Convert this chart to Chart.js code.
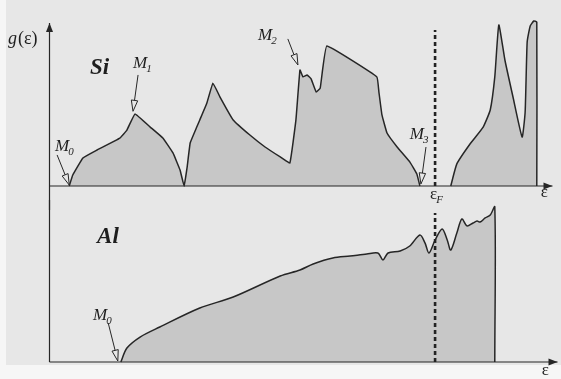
<!DOCTYPE html>
<html lang="en">
<head>
<meta charset="UTF-8">
<title>Density of states: Si and Al</title>
<script src="https://cdn.jsdelivr.net/npm/chart.js"></script>
<style>
  body { margin: 0; background: #f6f6f6; }
  #page { position: absolute; left: 6px; top: 0; width: 555px; height: 365px; background: #e7e7e7; }
  canvas { position: absolute; left: 0; }
  #siChart { top: 0; z-index: 2; }
  #alChart { top: 200px; z-index: 1; }
</style>
</head>
<body>
<div id="page"></div>
<canvas id="siChart" width="561" height="210"></canvas>
<canvas id="alChart" width="561" height="179"></canvas>

<script>
// energy (arbitrary units) and g(e)
const siValenceE = [0.40, 0.47, 0.67, 0.95, 1.40, 1.54, 1.70, 2.00, 2.25, 2.45, 2.59, 2.67,
                    2.73, 2.79, 2.92, 2.98, 3.12, 3.24, 3.38, 3.64, 3.97, 4.27, 4.57, 4.76,
                    4.88, 4.96, 5.02, 5.10, 5.18, 5.28, 5.36, 5.49, 6.48, 6.52, 6.58, 6.68,
                    6.88, 7.13, 7.27, 7.33];
const siValenceG = [0, 0.66, 1.69, 2.17, 2.89, 3.37, 4.34, 3.55, 2.89, 1.99, 0.96, 0,
                    1.14, 2.59, 3.55, 3.98, 5.00, 6.20, 5.36, 3.98, 3.07, 2.35, 1.75, 1.39,
                    3.98, 6.99, 6.57, 6.69, 6.45, 5.66, 5.90, 8.43, 6.57, 5.66, 4.28, 3.19,
                    2.35, 1.45, 0.72, 0];
const siConductionE = [7.94, 8.06, 8.32, 8.58, 8.72, 8.81, 8.89, 9.01, 9.17, 9.35, 9.41,
                       9.45, 9.51, 9.58, 9.64, 9.64];
const siConductionG = [0, 1.33, 2.53, 3.55, 4.58, 6.57, 9.70, 7.59, 5.36, 2.95, 4.46,
                       8.67, 9.64, 9.94, 9.88, 0];
const alE = [1.42, 1.54, 1.80, 2.19, 2.98, 3.64, 4.57, 4.96, 5.22, 5.61, 5.95, 6.28, 6.50,
             6.60, 6.70, 6.94, 7.13, 7.33, 7.43, 7.51, 7.63, 7.77, 7.87, 7.94, 8.06, 8.16,
             8.26, 8.38, 8.46, 8.52, 8.62, 8.72, 8.81, 8.81];
const alG = [0, 0.86, 1.54, 2.16, 3.33, 4.01, 5.31, 5.68, 6.05, 6.42, 6.54, 6.67, 6.73,
             6.30, 6.73, 6.85, 7.16, 7.84, 7.35, 6.73, 7.53, 8.21, 7.53, 6.91, 7.96, 8.83,
             8.40, 8.58, 8.70, 8.64, 8.89, 9.07, 9.57, 0];
const fermiE = 7.63;
const siFermiTop = 9.4;
const alFermiTop = 9.2;

const lineColor = '#262626';
const fillColor = '#c7c7c7';
const paperColor = '#e7e7e7';
const serif = '"Liberation Serif", "DejaVu Serif", serif';

function toPoints(e, g) {
    return e.map((v, i) => ({ x: v, y: g[i] }));
}

function band(e, g, tension) {
    return {
        data: toPoints(e, g),
        showLine: true,
        fill: 'origin',
        backgroundColor: fillColor,
        borderColor: lineColor,
        borderWidth: 1.5,
        pointRadius: 0,
        tension: tension,
        clip: false,
        order: 2
    };
}

function fermiLine(top) {
    return {
        data: [{ x: fermiE, y: 0 }, { x: fermiE, y: top }],
        showLine: true,
        fill: false,
        borderColor: '#222',
        borderWidth: 2.6,
        borderDash: [4, 3],
        pointRadius: 0,
        order: 1
    };
}

// hollow arrow heads, like the ones pointing at the critical points
function hollowArrow(ctx, x1, y1, x2, y2) {
    const a = Math.atan2(y2 - y1, x2 - x1);
    const len = 11, hw = 3.2;
    const bx = x2 - len * Math.cos(a), by = y2 - len * Math.sin(a);
    ctx.beginPath();
    ctx.moveTo(x1, y1);
    ctx.lineTo(bx, by);
    ctx.stroke();
    ctx.beginPath();
    ctx.moveTo(bx + hw * Math.sin(a), by - hw * Math.cos(a));
    ctx.lineTo(x2, y2);
    ctx.lineTo(bx - hw * Math.sin(a), by + hw * Math.cos(a));
    ctx.closePath();
    ctx.fillStyle = paperColor;
    ctx.fill();
    ctx.stroke();
}

function solidHead(ctx, x, y, dir) {
    ctx.beginPath();
    if (dir === 'right') {
        ctx.moveTo(x, y); ctx.lineTo(x - 9, y - 3.5); ctx.lineTo(x - 9, y + 3.5);
    } else {
        ctx.moveTo(x, y); ctx.lineTo(x - 3.5, y + 9); ctx.lineTo(x + 3.5, y + 9);
    }
    ctx.closePath();
    ctx.fillStyle = lineColor;
    ctx.fill();
}

function subText(ctx, x, y, main, sub, size, mainStyle, subStyle) {
    ctx.font = mainStyle + ' ' + size + 'px ' + serif;
    ctx.fillText(main, x, y);
    const w = ctx.measureText(main).width;
    ctx.font = subStyle + ' ' + Math.round(size * 0.65) + 'px ' + serif;
    ctx.fillText(sub, x + w - 1, y + 4);
}

const figurePlugin = {
    id: 'figure',
    afterDatasetsDraw(chart, args, opts) {
        const ctx = chart.ctx;
        const sx = chart.scales.x, sy = chart.scales.y;
        const px = v => sx.getPixelForValue(v);
        const py = v => sy.getPixelForValue(v);
        ctx.save();
        ctx.strokeStyle = lineColor;
        ctx.fillStyle = lineColor;
        ctx.lineWidth = 1.2;

        // axes
        const x0 = Math.round(px(0)) + 0.5;
        ctx.beginPath();
        ctx.moveTo(x0, opts.axisBottom === 'canvas' ? chart.height : py(0));
        ctx.lineTo(x0, opts.axisTop === 'canvas' ? 0 : py(opts.axisTop));
        ctx.stroke();
        if (opts.axisTop !== 'canvas') solidHead(ctx, x0, py(opts.axisTop), 'up');
        ctx.beginPath();
        ctx.moveTo(x0, py(0));
        ctx.lineTo(px(opts.axisRight), py(0));
        ctx.stroke();
        solidHead(ctx, px(opts.axisRight), py(0), 'right');

        // arrows to critical points
        ctx.lineWidth = 1;
        opts.arrows.forEach(a => hollowArrow(ctx, px(a[0]), py(a[1]), px(a[2]), py(a[3])));

        // labels
        ctx.fillStyle = '#1e1e1e';
        ctx.textBaseline = 'alphabetic';
        opts.labels.forEach(l => {
            const x = px(l.x), y = py(l.y);
            if (l.kind === 'M') {
                subText(ctx, x, y, 'M', l.sub, 17, 'italic', 'italic');
            } else if (l.kind === 'eF') {
                subText(ctx, x, y, 'ε', 'F', 17, 'normal', 'italic');
            } else if (l.kind === 'g') {
                ctx.font = 'italic 18px ' + serif;
                ctx.fillText('g', x, y);
                const w = ctx.measureText('g').width;
                ctx.font = '18px ' + serif;
                ctx.fillText('(ε)', x + w + 1, y);
            } else if (l.kind === 'e') {
                ctx.font = '17px ' + serif;
                ctx.fillText('ε', x, y);
            } else {
                ctx.font = 'bold italic 23px ' + serif;
                ctx.fillText(l.text, x, y);
            }
        });
        ctx.restore();
    }
};

function makeChart(id, datasets, padding, figure) {
    return new Chart(document.getElementById(id), {
        type: 'scatter',
        data: { datasets: datasets },
        options: {
            responsive: false,
            animation: false,
            layout: { padding: padding },
            scales: {
                x: { type: 'linear', min: 0, max: 10, display: false },
                y: { type: 'linear', min: 0, max: 10, display: false }
            },
            plugins: {
                legend: { display: false },
                tooltip: { enabled: false },
                figure: figure
            }
        },
        plugins: [figurePlugin]
    });
}

makeChart('siChart',
    [band(siValenceE, siValenceG, 0.08), band(siConductionE, siConductionG, 0.15), fermiLine(siFermiTop)],
    { left: 49, right: 6, top: 20, bottom: 24 },
    {
        axisTop: 9.82, axisBottom: 'canvas', axisRight: 9.95,
        arrows: [
            [0.16, 1.87, 0.40, 0.06],
            [1.76, 6.69, 1.66, 4.50],
            [4.72, 8.86, 4.92, 7.29],
            [7.45, 2.35, 7.35, 0.12]
        ],
        labels: [
            { kind: 'g', x: -0.81, y: 8.55 },
            { kind: 'text', text: 'Si', x: 0.81, y: 6.75 },
            { kind: 'M', sub: '0', x: 0.12, y: 2.11 },
            { kind: 'M', sub: '1', x: 1.66, y: 7.11 },
            { kind: 'M', sub: '2', x: 4.13, y: 8.80 },
            { kind: 'M', sub: '3', x: 7.13, y: 2.83 },
            { kind: 'eF', x: 7.53, y: -0.78 },
            { kind: 'e', x: 9.72, y: -0.66 }
        ]
    });

makeChart('alChart',
    [band(alE, alG, 0.3), fermiLine(alFermiTop)],
    { left: 49, right: 6, top: 0, bottom: 17 },
    {
        axisTop: 'canvas', axisBottom: 'zero', axisRight: 10.05,
        arrows: [
            [1.17, 2.41, 1.36, 0.06]
        ],
        labels: [
            { kind: 'text', text: 'Al', x: 0.95, y: 7.35 },
            { kind: 'M', sub: '0', x: 0.87, y: 2.59 },
            { kind: 'e', x: 9.74, y: -0.80 }
        ]
    });
</script>
</body>
</html>
